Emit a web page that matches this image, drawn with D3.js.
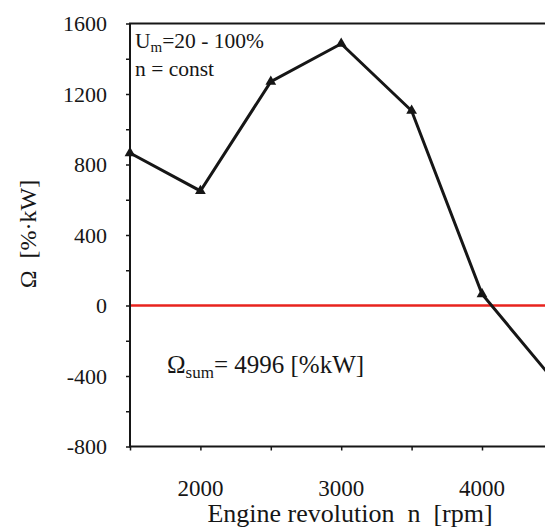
<!DOCTYPE html>
<html>
<head>
<meta charset="utf-8">
<script src="https://cdn.jsdelivr.net/npm/d3@7/dist/d3.min.js"></script>
<style>
  body { margin: 0; background: #fff; }
  svg text { font-family: "Times New Roman", Times, "Liberation Serif", "DejaVu Serif", "Noto Serif", serif; }
</style>
</head>
<body>
<svg id="chart" width="545" height="527"></svg>
<script>
// Engine speed [rpm] and the corresponding Omega index [%·kW]
const rpm = [1500, 2000, 2500, 3000, 3500, 4000, 4500];
const omega = [865, 650, 1270, 1485, 1105, 65, -415];

// Axis ticks
const yTickValues = [-800, -400, 0, 400, 800, 1200, 1600];
const yMinorValues = [-800, -600, -400, -200, 0, 200, 400, 600, 800, 1000, 1200, 1400, 1600];
const xTickValues = [2000, 3000, 4000];
const xMinorValues = [1500, 2000, 2500, 3000, 3500, 4000, 4500];

const ink = "#161616";

const svg = d3.select("#chart");

const x = d3.scaleLinear().domain([1500, 4500]).range([130, 552.4]);
const y = d3.scaleLinear().domain([-800, 1600]).range([446.5, 23.5]);

// Zero reference line
svg.append("line")
  .attr("x1", x(1500)).attr("x2", x(4500))
  .attr("y1", y(0)).attr("y2", y(0))
  .attr("stroke", "#e8231e").attr("stroke-width", 2.5);

// Top frame line
svg.append("line")
  .attr("x1", x(1500) - 1).attr("x2", x(4500))
  .attr("y1", y(1600)).attr("y2", y(1600))
  .attr("stroke", ink).attr("stroke-width", 2);

// Y axis: minor ticks every 200, labels every 400
const yAxis = svg.append("g").attr("transform", `translate(${x(1500)},0)`)
  .call(d3.axisLeft(y).tickValues(yMinorValues).tickSize(4).tickFormat(""));
yAxis.select(".domain").attr("stroke", ink).attr("stroke-width", 2).attr("d", `M0,${y(-800)}V${y(1600)}`);
yAxis.selectAll(".tick line").attr("stroke", ink).attr("stroke-width", 1.5);

svg.append("g").selectAll("text").data(yTickValues).join("text")
  .attr("fill", ink)
  .attr("x", 107).attr("y", d => y(d)).attr("dy", "0.35em")
  .attr("text-anchor", "end").attr("font-size", 22)
  .text(d => d);

// X axis: ticks every 500 rpm, labels every 1000
const xAxis = svg.append("g").attr("transform", `translate(0,${y(-800)})`)
  .call(d3.axisBottom(x).tickValues(xMinorValues).tickSize(4).tickFormat(""));
xAxis.select(".domain").attr("stroke", ink).attr("stroke-width", 2).attr("d", `M${x(1500) - 1},0H${x(4500)}`);
xAxis.selectAll(".tick line").attr("stroke", ink).attr("stroke-width", 1.5);

svg.append("g").selectAll("text").data(xTickValues).join("text")
  .attr("fill", ink)
  .attr("x", d => x(d)).attr("y", 496)
  .attr("text-anchor", "middle").attr("font-size", 23)
  .text(d => d);

// Axis titles
svg.append("text").attr("fill", ink)
  .attr("x", 350).attr("y", 522)
  .attr("text-anchor", "middle").attr("font-size", 26)
  .style("white-space", "pre")
  .text("Engine revolution  n  [rpm]");

svg.append("text").attr("fill", ink)
  .attr("transform", "translate(36,234) rotate(-90)")
  .attr("text-anchor", "middle").attr("font-size", 24)
  .style("white-space", "pre")
  .text("Ω  [%·kW]");

// Omega curve with triangle markers
const line = d3.line().x((d, i) => x(rpm[i])).y(d => y(d));
svg.append("path")
  .datum(omega)
  .attr("d", line)
  .attr("fill", "none").attr("stroke", ink)
  .attr("stroke-width", 3).attr("stroke-linejoin", "miter");

svg.append("g").selectAll("path").data(omega).join("path")
  .attr("transform", (d, i) => `translate(${x(rpm[i])},${y(d)})`)
  .attr("d", d3.symbol(d3.symbolTriangle, 50))
  .attr("fill", ink);

// Operating-condition notes
const note1 = svg.append("text").attr("fill", ink).attr("x", 135).attr("y", 48).attr("font-size", 21.5);
note1.append("tspan").text("U");
note1.append("tspan").attr("font-size", 15).attr("dy", 4).text("m");
note1.append("tspan").attr("dy", -4).text("=20 - 100%");

svg.append("text").attr("fill", ink).attr("x", 135).attr("y", 76).attr("font-size", 21.5)
  .style("white-space", "pre").text("n = const");

// Summed index
const sum = svg.append("text").attr("fill", ink).attr("x", 167).attr("y", 373).attr("font-size", 25)
  .style("white-space", "pre");
sum.append("tspan").text("Ω");
sum.append("tspan").attr("font-size", 17).attr("dy", 5).text("sum");
sum.append("tspan").attr("dy", -5).text("= 4996 [%kW]");
</script>
</body>
</html>
